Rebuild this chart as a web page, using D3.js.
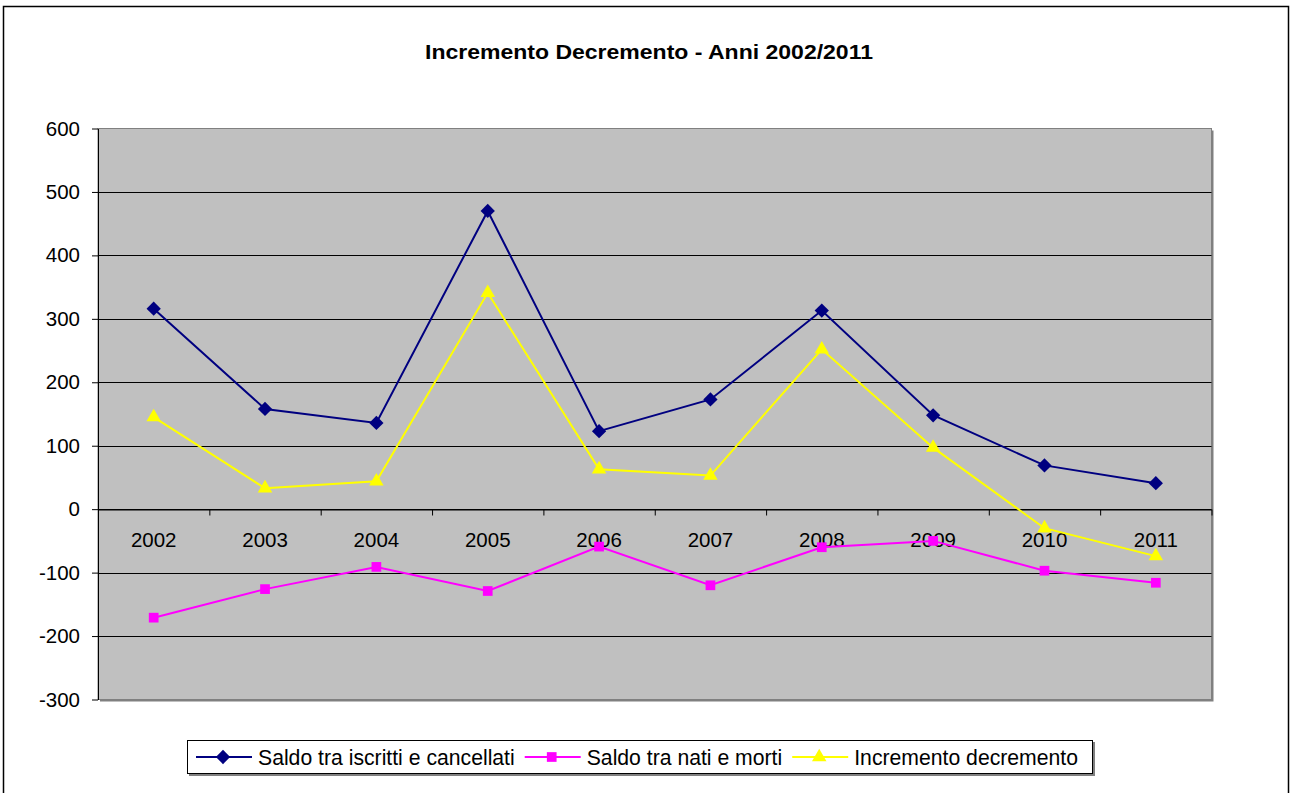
<!DOCTYPE html>
<html>
<head>
<meta charset="utf-8">
<script src="https://cdn.jsdelivr.net/npm/d3@7"></script>
<style>
  body { margin: 0; background: #fff; }
  svg { display: block; font-family: Arial, "Liberation Sans", sans-serif; }
</style>
</head>
<body>
<svg id="chart" width="1294" height="793"></svg>
<script>
// dati
const anni = ["2002", "2003", "2004", "2005", "2006", "2007", "2008", "2009", "2010", "2011"];
const saldoIscritti = [316, 158, 136, 470, 123, 173, 313, 148, 69, 41];
const saldoNati = [-171, -126, -91, -129, -59, -120, -60, -50, -97, -116];
const incremento = [145, 33, 44, 341, 63, 53, 252, 97, -30, -74];
const yTicks = [-300, -200, -100, 0, 100, 200, 300, 400, 500, 600];
const titolo = "Incremento Decremento - Anni 2002/2011";

const serie = [
  {nome: "Saldo tra iscritti e cancellati", valori: saldoIscritti, colore: "#000080", simbolo: d3.symbolDiamond2, size: 130},
  {nome: "Saldo tra nati e morti", valori: saldoNati, colore: "#FF00FF", simbolo: d3.symbolSquare2, size: 120},
  {nome: "Incremento decremento", valori: incremento, colore: "#FFFF00", simbolo: d3.symbolTriangle2, size: 150}
];

const svg = d3.select("#chart");

// cornice esterna
svg.append("rect")
  .attr("x", 3.5).attr("y", 6.5)
  .attr("width", 1285).attr("height", 800)
  .attr("fill", "#fff").attr("stroke", "#000").attr("stroke-width", 1.5);

// titolo
svg.append("text")
  .attr("x", 649).attr("y", 59)
  .attr("text-anchor", "middle")
  .attr("font-size", 20).attr("font-weight", "bold")
  .attr("textLength", 448).attr("lengthAdjust", "spacingAndGlyphs")
  .text(titolo);

const pLeft = 98, pRight = 1211.5, pTop = 128.5, pBottom = 699.5;

const x = d3.scaleBand().domain(anni).range([pLeft, pRight]).padding(0);
const xIdx = d3.scaleLinear().domain([0, anni.length]).range([pLeft, pRight]);
const y = d3.scaleLinear().domain([-300, 600]).range([pBottom, pTop]);

// area del grafico
svg.append("rect")
  .attr("x", pLeft + 2).attr("y", pTop + 2)
  .attr("width", pRight - pLeft).attr("height", pBottom - pTop)
  .attr("fill", "#808080");
svg.append("rect")
  .attr("x", pLeft).attr("y", pTop)
  .attr("width", pRight - pLeft).attr("height", pBottom - pTop)
  .attr("fill", "#C0C0C0").attr("stroke", "#808080").attr("stroke-width", 1);

// griglia
svg.append("g")
  .selectAll("line")
  .data(yTicks.filter(d => d > -300 && d < 600))
  .enter()
  .append("line")
  .attr("x1", pLeft).attr("x2", pRight)
  .attr("y1", d => Math.round(y(d)) + 0.5).attr("y2", d => Math.round(y(d)) + 0.5)
  .attr("stroke", "#000").attr("stroke-width", 1);

// asse y
const gy = svg.append("g")
  .attr("transform", "translate(" + pLeft + ",0)")
  .call(d3.axisLeft(y).tickValues(yTicks).tickFormat(d => String(d)).tickSize(6).tickSizeOuter(0).tickPadding(12));
gy.selectAll("text").attr("font-size", 20.5).attr("fill", "#000").attr("font-family", "Arial, 'Liberation Sans', sans-serif");
gy.selectAll("line, path").attr("stroke", "#000");

// asse x sullo zero
const y0 = Math.round(y(0)) + 0.5;
const gx = svg.append("g")
  .attr("transform", "translate(0," + y0 + ")")
  .call(d3.axisBottom(xIdx).tickValues(d3.range(anni.length + 1)).tickFormat("").tickSize(6).tickSizeOuter(0));
gx.selectAll("line, path").attr("stroke", "#000");

const gxl = svg.append("g")
  .attr("transform", "translate(0," + y0 + ")")
  .call(d3.axisBottom(x).tickSize(0).tickPadding(23));
gxl.select(".domain").remove();
gxl.selectAll("text").attr("font-size", 20.5).attr("fill", "#000").attr("font-family", "Arial, 'Liberation Sans', sans-serif");

// linee e simboli
const cx = (d, i) => x(anni[i]) + x.bandwidth() / 2;
const line = d3.line()
  .x((d, i) => cx(d, i))
  .y(d => y(d));

serie.forEach(s => {
  svg.append("path")
    .datum(s.valori)
    .attr("d", line)
    .attr("fill", "none")
    .attr("stroke", s.colore)
    .attr("stroke-width", 2);
});

serie.forEach(s => {
  svg.append("g")
    .selectAll("path")
    .data(s.valori)
    .enter()
    .append("path")
    .attr("d", d3.symbol().type(s.simbolo).size(s.size))
    .attr("transform", (d, i) => "translate(" + cx(d, i) + "," + y(d) + ")")
    .attr("fill", s.colore);
});

// legenda
svg.append("rect")
  .attr("x", 189).attr("y", 742)
  .attr("width", 906).attr("height", 34)
  .attr("fill", "#808080");
svg.append("rect")
  .attr("x", 187.5).attr("y", 740.5)
  .attr("width", 905).attr("height", 33)
  .attr("fill", "#fff").attr("stroke", "#000").attr("stroke-width", 1);

let lx = 196;
serie.forEach(s => {
  const g = svg.append("g");
  g.append("line")
    .attr("x1", lx).attr("x2", lx + 56)
    .attr("y1", 757).attr("y2", 757)
    .attr("stroke", s.colore).attr("stroke-width", 2);
  g.append("path")
    .attr("d", d3.symbol().type(s.simbolo).size(s.size))
    .attr("transform", "translate(" + (lx + 27) + ",757)")
    .attr("fill", s.colore);
  const t = g.append("text")
    .attr("x", lx + 62).attr("y", 764.5)
    .attr("font-size", 21.2)
    .text(s.nome);
  lx = lx + 62 + t.node().getComputedTextLength() + 10;
});
</script>
</body>
</html>
